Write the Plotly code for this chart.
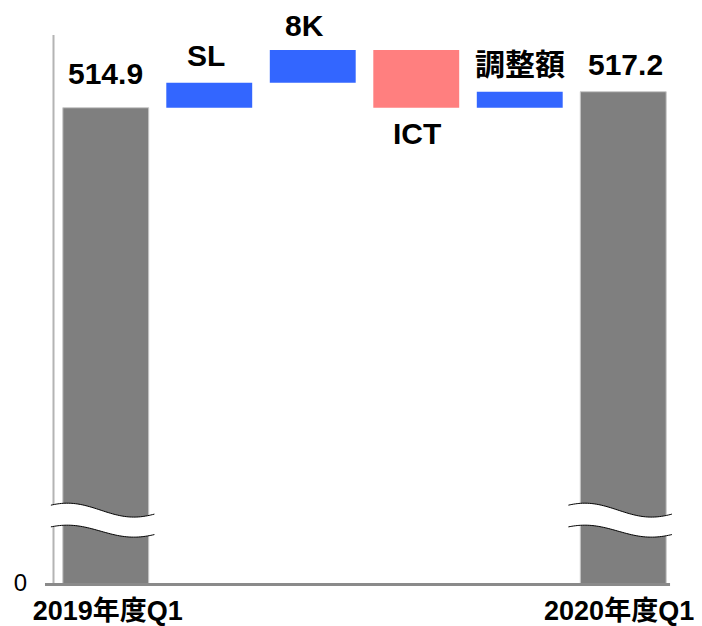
import numpy as np
import plotly.graph_objects as go

# ---------------- data ----------------
categories = ["2019年度Q1", "SL", "8K", "ICT", "調整額", "2020年度Q1"]
measures = ["absolute", "relative", "relative", "relative", "relative", "total"]
values = [514.9, 3.6, 4.7, -8.3, 2.3, 0]
tick_labels = ["2019年度Q1", "2020年度Q1"]
tick_cats = [0, 5]
axis_zero_label = "0"

# cumulative levels (bar ends)
cum = []
run = 0.0
for m, v in zip(measures, values):
    if m == "absolute":
        run = v
    elif m == "relative":
        run += v
    cum.append(run)
bar_labels = [f"{cum[0]:.1f}"] + categories[1:-1] + [f"{cum[-1]:.1f}"]

# ---------------- style ----------------
FONT = "Liberation Sans, Arial, Noto Sans CJK JP, sans-serif"
GRAY = "#7f7f7f"
BLUE = "#3366ff"
PINK = "#ff7f7f"
y_min, y_max = 446.6, 525.35
n = len(categories)
x_idx = list(range(n))
tick_offsets = [0.02, -0.04]

fig = go.Figure()
fig.add_trace(go.Waterfall(
    x=x_idx, y=values, measure=measures,
    width=0.83,
    increasing=dict(marker=dict(color=BLUE, line=dict(width=0))),
    decreasing=dict(marker=dict(color=PINK, line=dict(width=0))),
    totals=dict(marker=dict(color=GRAY, line=dict(color="#c8c8c8", width=1))),
    connector=dict(visible=False),
    textinfo="none", hoverinfo="skip",
))

# labels
yshifts = [16, 9, 6, -7, 9, 9]
xshifts = [0, -3, -8, 1, 0, 2]
for i in range(n):
    anchor = "top" if (measures[i] == "relative" and values[i] < 0) else "bottom"
    fig.add_annotation(
        x=i, y=cum[i], text=bar_labels[i], showarrow=False,
        yanchor=anchor, xanchor="center",
        yshift=yshifts[i], xshift=xshifts[i],
        font=dict(family=FONT, size=30, color="black", weight="bold"),
    )

def py(v):
    return (v - y_min) / (y_max - y_min)

def px(x):
    return (x + 0.5) / n

# axis lines as shapes
fig.add_shape(type="line", xref="paper", yref="paper",
              x0=-0.0008, x1=-0.0008, y0=0, y1=1,
              line=dict(color="#b4b4b4", width=2), layer="below")
fig.add_shape(type="line", xref="paper", yref="paper",
              x0=-0.0145, x1=0.992, y0=-0.0027, y1=-0.0027,
              line=dict(color="#8a8a8a", width=3), layer="above")

# axis break waves on the first and last bars
top_mid, low_mid = 457.07, 454.05
amp_top, amp_low = 1.0, 0.86
for i in (0, n - 1):
    t = np.linspace(0, 1, 60)
    th = np.pi * (-0.747 + 1.554 * t)
    xs = i - 0.53 + 1.0 * t
    top = top_mid - amp_top * np.sin(th)
    low = low_mid - amp_low * np.sin(th)
    pts_top = [f"{px(a):.5f},{py(b):.5f}" for a, b in zip(xs, top)]
    pts_low = [f"{px(a):.5f},{py(b):.5f}" for a, b in zip(xs, low)]
    fill_path = "M " + " L ".join(pts_top + pts_low[::-1]) + " Z"
    fig.add_shape(type="path", xref="paper", yref="paper", path=fill_path,
                  fillcolor="white", line=dict(width=0), layer="above")
    for pts in (pts_top, pts_low):
        fig.add_shape(type="path", xref="paper", yref="paper",
                      path="M " + " L ".join(pts),
                      line=dict(color="black", width=1), layer="above")

fig.update_layout(
    width=694, height=618,
    margin=dict(l=46, r=27, t=27, b=43),
    paper_bgcolor="white", plot_bgcolor="white",
    showlegend=False,
    font=dict(family=FONT, color="black"),
    xaxis=dict(range=[-0.5, n - 0.5],
               tickvals=[c + o for c, o in zip(tick_cats, tick_offsets)],
               ticktext=tick_labels,
               showgrid=False, zeroline=False, showline=False, ticks="",
               tickfont=dict(family=FONT, size=27, color="black", weight="bold"),
               ticklabelstandoff=9, automargin=False, fixedrange=True),
    yaxis=dict(range=[y_min, y_max], tickvals=[y_min], ticktext=[axis_zero_label],
               showgrid=False, zeroline=False, showline=False, ticks="",
               tickfont=dict(family=FONT, size=24, color="black"),
               ticklabelstandoff=26, automargin=False, fixedrange=True),
)

fig.write_html("out.html")
